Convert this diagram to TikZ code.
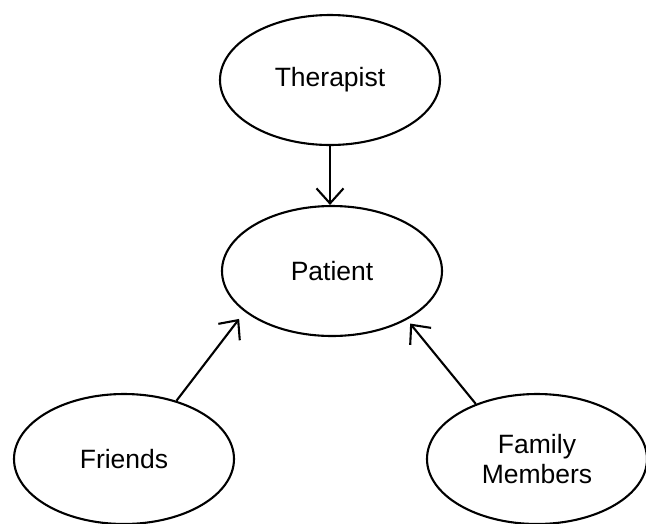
\documentclass[tikz,border=0pt]{standalone}
\usepackage{fontspec}
\setmainfont{Liberation Sans}
\usetikzlibrary{shapes.geometric,arrows.meta}

\tikzset{
  party/.style={draw, ellipse, line width=2.1pt, minimum width=220pt,
    minimum height=130pt, inner sep=0pt, align=center,
    font=\fontsize{26.5}{30}\selectfont},
  arr/.style={line width=2.1pt, -{Straight Barb[length=15pt,width=27pt]}}
}

\begin{document}
\begin{tikzpicture}[x=1pt, y=-1pt]
  \useasboundingbox (0,0) rectangle (646,523);
  \clip (0,0) rectangle (646,523);

  % the four parties
  \node[party] (T) at (330,80)  {Therapist};
  \node[party] (P) at (332,271) {Patient};
  \node[party] (F) at (124,459) {Friends};
  \node[party] (M) at (537,459) {Family\\Members};

  % influences on the patient
  \draw[arr] (T.south) -- (T.south |- P.north);
  \draw[arr, shorten >=9pt] (F.48.6) -- (P.205.9);
  \draw[arr, shorten >=5pt] (M.138.3) -- (P.327.2);
\end{tikzpicture}
\end{document}
